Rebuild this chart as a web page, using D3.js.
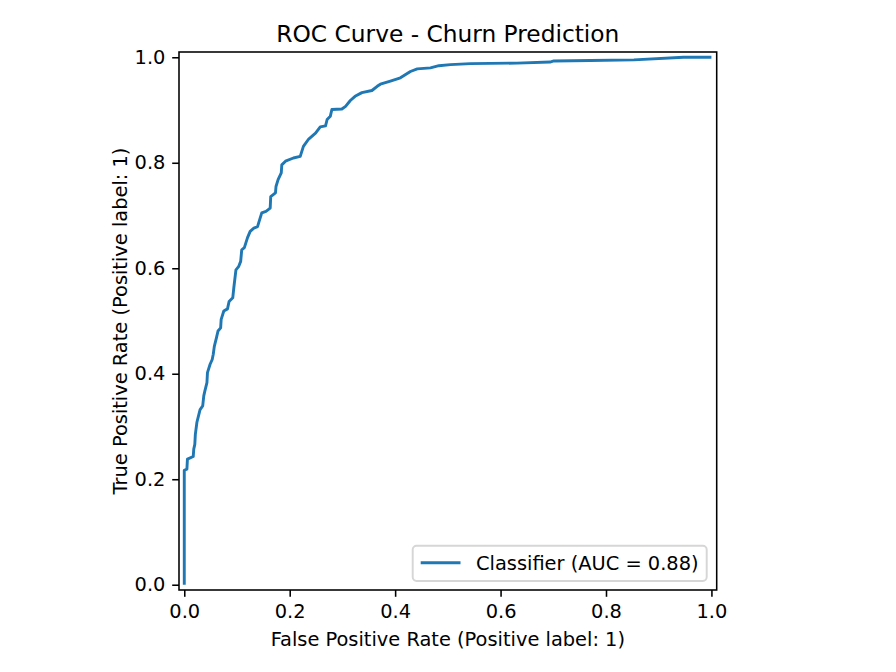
<!DOCTYPE html>
<html>
<head>
<meta charset="utf-8">
<script src="https://cdn.jsdelivr.net/npm/d3@7/dist/d3.min.js"></script>
<style>
  html, body { margin: 0; padding: 0; background: #ffffff; }
  svg { display: block; }
  text { font-family: "DejaVu Sans", sans-serif; fill: #000; }
</style>
</head>
<body>
<svg id="chart" width="896" height="672"></svg>
<script>
// ---- data ----
const fpr = [0.000, 0.000, 0.005, 0.006, 0.017, 0.018, 0.020, 0.021, 0.024, 0.027,
             0.030, 0.035, 0.037, 0.039, 0.043, 0.044, 0.049, 0.053, 0.055, 0.057,
             0.061, 0.064, 0.069, 0.070, 0.075, 0.082, 0.085, 0.092, 0.094, 0.098,
             0.103, 0.107, 0.109, 0.114, 0.120, 0.125, 0.132, 0.139, 0.142, 0.147,
             0.155, 0.163, 0.164, 0.173, 0.174, 0.178, 0.184, 0.185, 0.192, 0.207,
             0.220, 0.226, 0.236, 0.249, 0.258, 0.268, 0.271, 0.277, 0.280, 0.299,
             0.306, 0.315, 0.324, 0.337, 0.356, 0.366, 0.372, 0.391, 0.410, 0.429,
             0.442, 0.467, 0.483, 0.505, 0.543, 0.631, 0.694, 0.701, 0.770, 0.853,
             0.947, 1.000];
const tpr = [0.000, 0.217, 0.219, 0.238, 0.243, 0.257, 0.266, 0.285, 0.308, 0.320,
             0.332, 0.339, 0.358, 0.367, 0.383, 0.402, 0.418, 0.427, 0.437, 0.452,
             0.468, 0.481, 0.487, 0.503, 0.519, 0.523, 0.537, 0.544, 0.563, 0.597,
             0.603, 0.613, 0.635, 0.639, 0.658, 0.670, 0.676, 0.679, 0.689, 0.705,
             0.708, 0.714, 0.736, 0.743, 0.755, 0.768, 0.781, 0.796, 0.803, 0.809,
             0.812, 0.831, 0.845, 0.856, 0.868, 0.870, 0.882, 0.888, 0.901, 0.902,
             0.907, 0.918, 0.926, 0.933, 0.937, 0.945, 0.949, 0.955, 0.961, 0.973,
             0.978, 0.980, 0.984, 0.986, 0.988, 0.989, 0.991, 0.993, 0.994, 0.995,
             1.000, 1.000];
const tickValues = [0.0, 0.2, 0.4, 0.6, 0.8, 1.0];
const tickLabels = ["0.0", "0.2", "0.4", "0.6", "0.8", "1.0"];
const titleText = "ROC Curve - Churn Prediction";
const xLabelText = "False Positive Rate (Positive label: 1)";
const yLabelText = "True Positive Rate (Positive label: 1)";
const legendText = "Classifier (AUC = 0.88)";

(function () {
  // ---- layout ----
  const svg = d3.select("#chart");
  const pLeft = 179, pRight = 716.7, pTop = 52, pBottom = 590;
  const x = d3.scaleLinear().domain([-0.01, 1.01]).range([pLeft, pRight]);
  const y = d3.scaleLinear().domain([-0.01, 1.01]).range([pBottom, pTop]);
  const tickFont = 19.4;
  const lineColor = "#1f77b4";
  const axisColor = "#000";

  // curve
  const pts = fpr.map((d, i) => [d, tpr[i]]);
  svg.append("path")
    .datum(pts)
    .attr("fill", "none")
    .attr("stroke", lineColor)
    .attr("stroke-width", 2.9)
    .attr("stroke-linejoin", "round")
    .attr("stroke-linecap", "butt")
    .attr("d", d3.line().x(d => x(d[0])).y(d => y(d[1])));

  // axes
  const fmt = d => tickLabels[tickValues.indexOf(d)];
  const xAxis = d3.axisBottom(x).tickValues(tickValues).tickFormat(fmt)
    .tickSizeInner(6.8).tickSizeOuter(0).tickPadding(6.8);
  const yAxis = d3.axisLeft(y).tickValues(tickValues).tickFormat(fmt)
    .tickSizeInner(6.8).tickSizeOuter(0).tickPadding(6.8);

  const gx = svg.append("g").attr("transform", `translate(0,${pBottom})`).call(xAxis);
  const gy = svg.append("g").attr("transform", `translate(${pLeft},0)`).call(yAxis);
  [gx, gy].forEach(g => {
    g.select(".domain").remove();
    g.selectAll(".tick line").attr("stroke", axisColor).attr("stroke-width", 1.56);
    g.selectAll(".tick text")
      .attr("font-family", "DejaVu Sans")
      .attr("font-size", tickFont)
      .attr("fill", "#000");
  });
  gx.selectAll(".tick text").attr("dy", "0.76em");

  // frame (spines)
  svg.append("rect")
    .attr("x", pLeft).attr("y", pTop)
    .attr("width", pRight - pLeft).attr("height", pBottom - pTop)
    .attr("fill", "none")
    .attr("stroke", axisColor)
    .attr("stroke-width", 1.56);

  // title
  svg.append("text")
    .attr("x", (pLeft + pRight) / 2).attr("y", 41.5)
    .attr("text-anchor", "middle")
    .attr("font-size", 23.3)
    .text(titleText);

  // x label
  svg.append("text")
    .attr("x", (pLeft + pRight) / 2).attr("y", 646)
    .attr("text-anchor", "middle")
    .attr("font-size", tickFont)
    .text(xLabelText);

  // y label
  svg.append("text")
    .attr("transform", `translate(126.5,${(pTop + pBottom) / 2}) rotate(-90)`)
    .attr("text-anchor", "middle")
    .attr("font-size", tickFont)
    .text(yLabelText);

  // legend
  const lg = svg.append("g");
  const boxX = 412.7, boxY = 545.7, boxW = 294, boxH = 35.3;
  lg.append("rect")
    .attr("x", boxX).attr("y", boxY)
    .attr("width", boxW).attr("height", boxH)
    .attr("rx", 3.9).attr("ry", 3.9)
    .attr("fill", "#ffffff").attr("fill-opacity", 0.8)
    .attr("stroke", "#cccccc").attr("stroke-opacity", 0.8)
    .attr("stroke-width", 1.94);
  lg.append("line")
    .attr("x1", 420.7).attr("x2", 460.5)
    .attr("y1", 562.8).attr("y2", 562.8)
    .attr("stroke", lineColor).attr("stroke-width", 2.9);
  lg.append("text")
    .attr("x", 476).attr("y", 569.5)
    .attr("font-size", tickFont)
    .text(legendText);
})();
</script>
</body>
</html>
